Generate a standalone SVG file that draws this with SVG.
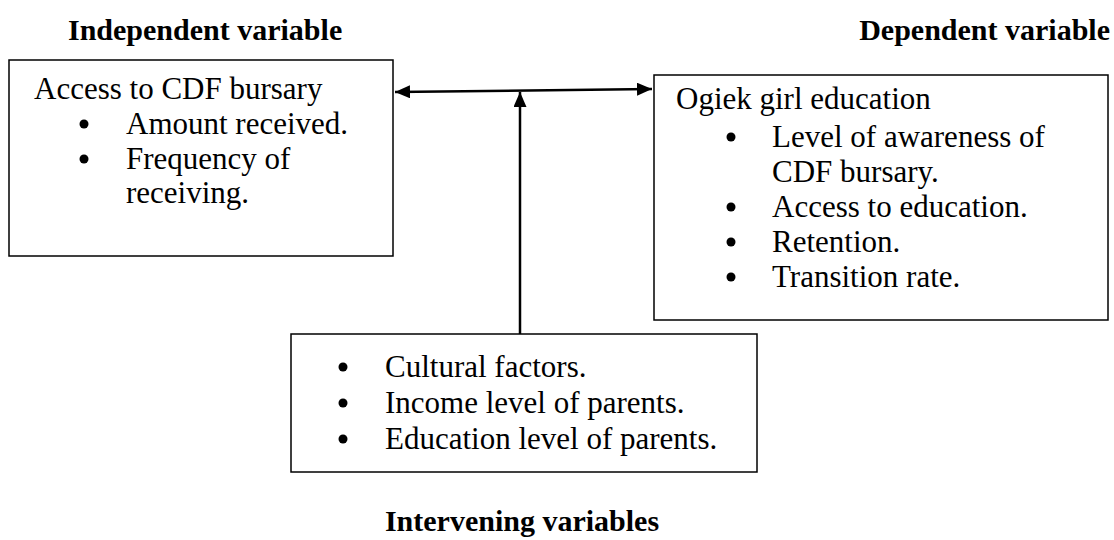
<svg xmlns="http://www.w3.org/2000/svg" width="1114" height="540" viewBox="0 0 1114 540">
<style>
text{font-family:"Liberation Serif","Times New Roman",serif;font-size:31px;fill:#000}
.t{font-weight:bold;font-size:30px}
.box{fill:#fff;stroke:#000;stroke-width:1.5}
.c{stroke:#000;stroke-width:2.5;fill:none}
</style>
<defs>
<marker id="ah" viewBox="0 0 15 13" refX="15" refY="6.5" markerWidth="6" markerHeight="5.2" orient="auto-start-reverse" markerUnits="strokeWidth">
<path d="M0,0 L15,6.5 L0,13 Z" fill="#000"/>
</marker>
</defs>
<rect width="1114" height="540" fill="#fff"/>
<text class="t" x="68" y="40">Independent variable</text>
<text class="t" x="1110" y="40" text-anchor="end">Dependent variable</text>
<text class="t" x="522" y="531" text-anchor="middle">Intervening variables</text>
<g id="connectors">
<line class="c" x1="395" y1="92" x2="652" y2="89" marker-start="url(#ah)" marker-end="url(#ah)"/>
<line class="c" x1="520" y1="334" x2="520" y2="92" marker-end="url(#ah)"/>
</g>
<g id="independent">
<rect class="box" x="9" y="60" width="384" height="196"/>
<text x="34" y="99">Access to CDF bursary</text>
<circle cx="84" cy="124" r="4.5"/>
<text x="126" y="134">Amount received.</text>
<circle cx="84" cy="159" r="4.5"/>
<text x="126" y="169">Frequency of</text>
<text x="126" y="203">receiving.</text>
</g>
<g id="dependent">
<rect class="box" x="654" y="75" width="454" height="245"/>
<text x="676" y="109">Ogiek girl education</text>
<circle cx="731" cy="137" r="4.5"/>
<text x="772" y="147">Level of awareness of</text>
<text x="772" y="182">CDF bursary.</text>
<circle cx="731" cy="207" r="4.5"/>
<text x="772" y="217">Access to education.</text>
<circle cx="731" cy="242" r="4.5"/>
<text x="772" y="252">Retention.</text>
<circle cx="731" cy="277" r="4.5"/>
<text x="772" y="287">Transition rate.</text>
</g>
<g id="intervening">
<rect class="box" x="291" y="334" width="466" height="138"/>
<circle cx="343" cy="367" r="4.5"/>
<text x="385" y="377">Cultural factors.</text>
<circle cx="343" cy="403" r="4.5"/>
<text x="385" y="413">Income level of parents.</text>
<circle cx="343" cy="439" r="4.5"/>
<text x="385" y="449">Education level of parents.</text>
</g>
</svg>
